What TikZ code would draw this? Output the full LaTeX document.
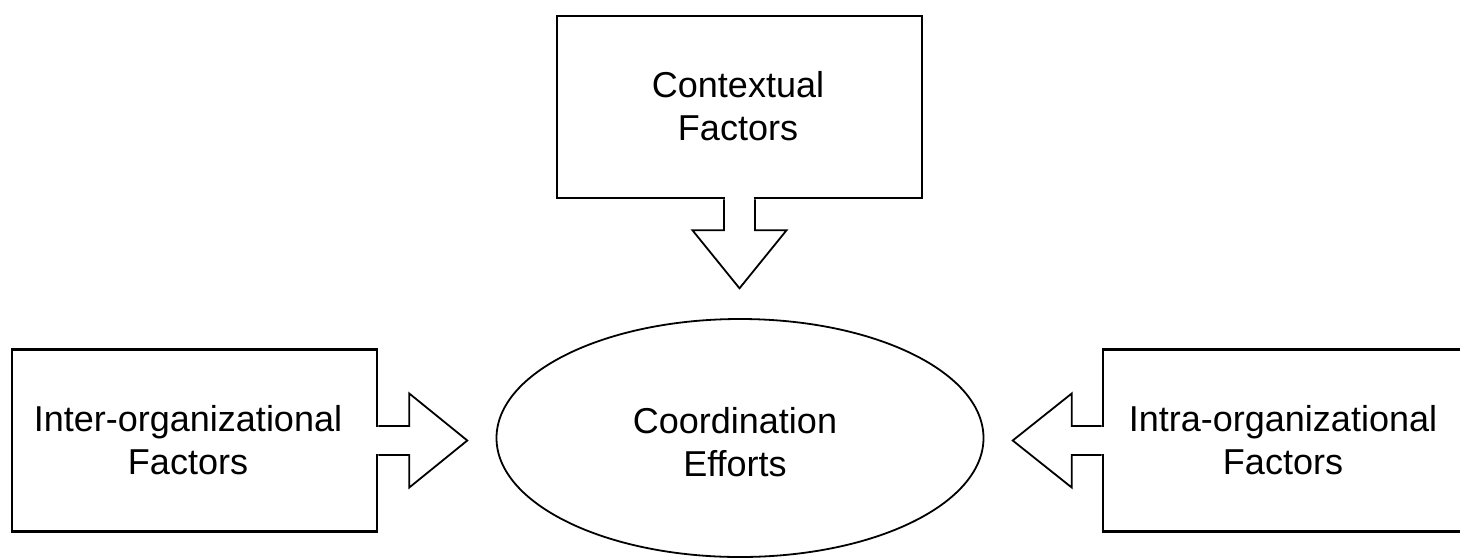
\documentclass[tikz,border=0pt]{standalone}
\usepackage{fontspec}
\setmainfont{Liberation Sans}
\usetikzlibrary{calc,shapes.geometric}
\begin{document}
\begin{tikzpicture}[x=1pt,y=-1pt,
  box/.style={draw=black,line width=2.6pt,minimum width=365pt,minimum height=182pt,inner sep=0pt},
  oval/.style={draw=black,line width=1.8pt,ellipse,minimum width=487pt,minimum height=238pt,inner sep=0pt},
  txt/.style={align=center,font=\fontsize{36}{43}\selectfont,inner sep=0pt},
  blockarrow/.style={draw=black,line width=1.8pt,fill=white,line join=miter},
  gap/.style={fill=white}]
\useasboundingbox (0,0) rectangle (1460,558);
\fill[white] (0,0) rectangle (1460,558);

% nodes
\node[box] (ctx) at (739.5,107) {};
\node[txt] (ctxtext) at (738,106) {Contextual\\Factors};
\node[box] (inter) at (194.5,440.5) {};
\node[txt] (intertext) at (188,440) {Inter-organizational\\Factors};
\node[box] (intra) at (1285.5,440.5) {};
\node[txt] (intratext) at (1283,440) {Intra-organizational\\Factors};
\node[oval] (coord) at (740,438) {};
\node[txt] (coordtext) at (735,442) {Coordination\\Efforts};

% top block arrow
\fill[gap] ($(ctx.south)+(-14.6,-3)$) rectangle ($(ctx.south)+(14.6,3)$);
\draw[blockarrow]
  ($(ctx.south)+(-15.5,0)$) -- ($(ctx.south)+(-15.5,31)$) -- ($(ctx.south)+(-47,31)$)
  -- ($(ctx.south)+(0,89)$) coordinate (ctxtip)
  -- ($(ctx.south)+(47,31)$) -- ($(ctx.south)+(15.5,31)$) -- ($(ctx.south)+(15.5,0)$);

% left block arrow
\fill[gap] ($(inter.east)+(-3,-13.6)$) rectangle ($(inter.east)+(3,13.6)$);
\draw[blockarrow]
  ($(inter.east)+(0,-14.5)$) -- ($(inter.east)+(31,-14.5)$) -- ($(inter.east)+(31,-47)$)
  -- ($(inter.east)+(89,0)$) coordinate (intertip)
  -- ($(inter.east)+(31,47)$) -- ($(inter.east)+(31,14.5)$) -- ($(inter.east)+(0,14.5)$);

% right block arrow
\fill[gap] ($(intra.west)+(-3,-13.6)$) rectangle ($(intra.west)+(3,13.6)$);
\draw[blockarrow]
  ($(intra.west)+(0,-14.5)$) -- ($(intra.west)+(-30,-14.5)$) -- ($(intra.west)+(-30,-47)$)
  -- ($(intra.west)+(-89,0)$) coordinate (intratip)
  -- ($(intra.west)+(-30,47)$) -- ($(intra.west)+(-30,14.5)$) -- ($(intra.west)+(0,14.5)$);
\end{tikzpicture}
\end{document}
